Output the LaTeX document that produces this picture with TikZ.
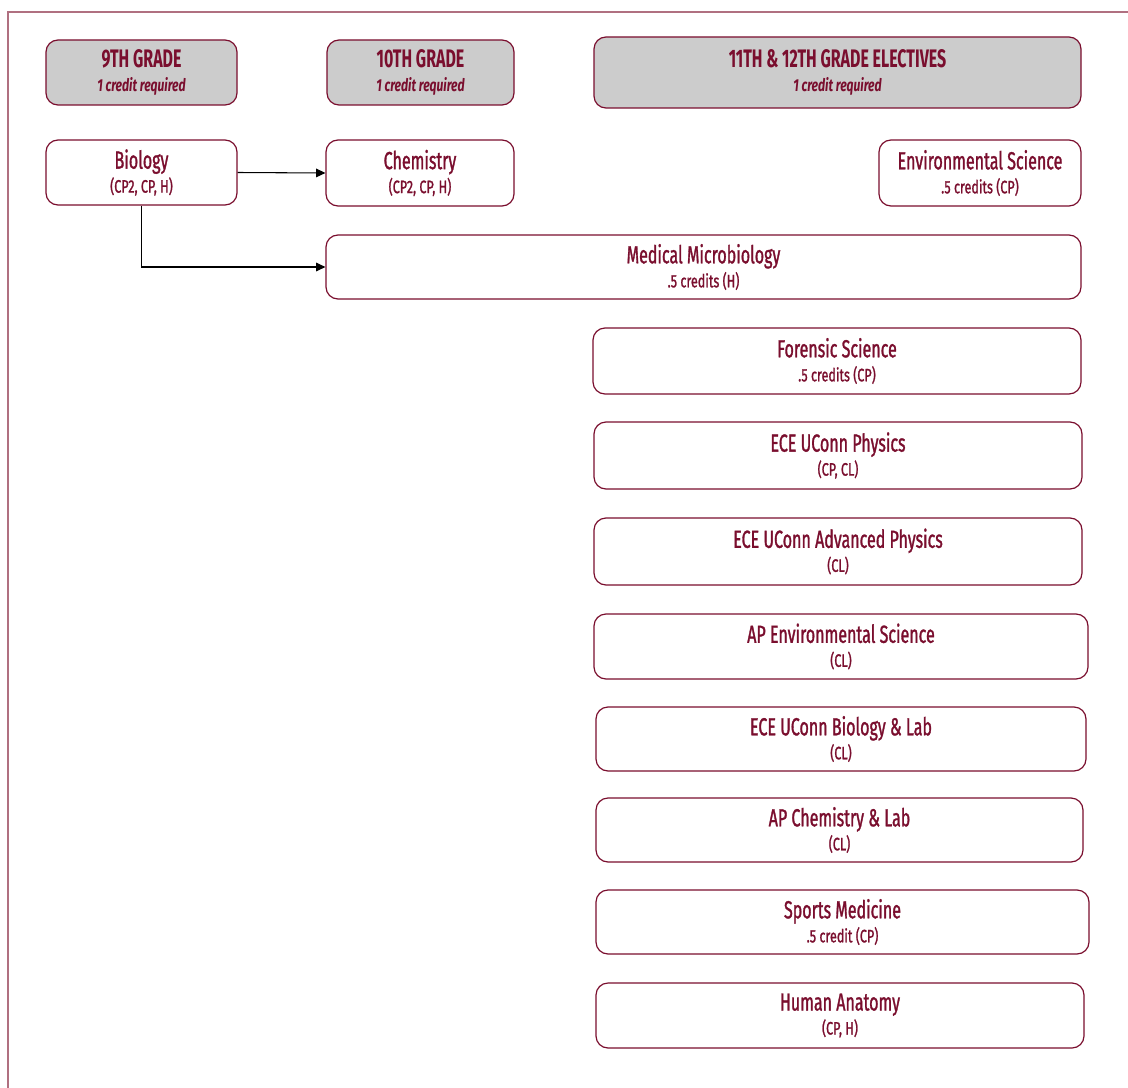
\documentclass[tikz,border=0pt]{standalone}
\usepackage{fontspec}
\usetikzlibrary{arrows.meta}
\newfontfamily\cond[FakeStretch=0.65,FakeBold=1.2]{Fira Sans}
\newfontfamily\condsub[FakeStretch=0.7,FakeBold=1.2]{Fira Sans}
\newfontfamily\condhead[FakeStretch=0.63]{Fira Sans}
\newfontfamily\condheadsub[FakeStretch=0.7]{Fira Sans}
\definecolor{maroon}{RGB}{122,14,46}
\definecolor{frame}{RGB}{176,112,128}
\definecolor{hdrfill}{RGB}{204,204,204}
\newcommand\cbox[7]{%
  \pgfmathsetmacro\mycx{(#3+#5)/2}\pgfmathsetmacro\mycy{(#4+#6)/2}%
  \pgfmathsetmacro\mybw{(#5-#3)*0.75}\pgfmathsetmacro\mybh{(#6-#4)*0.75}%
  \node[#1, minimum width=\mybw pt, minimum height=\mybh pt] (#2) at (\mycx,\mycy) {#7};}
\newcommand\ctitle[2]{{\cond\fontsize{18.5}{18}\selectfont #1}\\{\condsub\fontsize{13.5}{18}\selectfont #2}}
\newcommand\htitle[2]{{\condhead\fontsize{19}{18}\selectfont\bfseries #1}\\{\condheadsub\fontsize{13}{18}\selectfont\bfseries\itshape #2}}
\tikzset{
  base/.style={rectangle, rounded corners=9pt, draw=maroon, line width=0.9pt,
    text=maroon, inner sep=0pt, align=center},
  course/.style={base, fill=white, font=\cond\fontsize{14}{18}\selectfont},
  header/.style={base, fill=hdrfill, font=\condhead\fontsize{14}{18}\selectfont},
  link/.style={draw=black, line width=0.8pt, -{Triangle[length=7pt,width=6.5pt]}}
}
\begin{document}
\begin{tikzpicture}[x=0.75pt,y=-0.75pt]
\useasboundingbox (0,0) rectangle (1128,1088);
\draw[frame, line width=0.8pt] (8,1088) -- (8,12) -- (1128,12);
\cbox{header}{h9}{46}{40}{237}{105}{\htitle{9TH GRADE}{1 credit required}}
\cbox{header}{h10}{327}{40}{514}{105}{\htitle{10TH GRADE}{1 credit required}}
\cbox{header}{h11}{594}{37}{1081}{108}{\htitle{11TH \& 12TH GRADE ELECTIVES}{1 credit required}}
\cbox{course}{bio}{46}{140}{237}{205}{\ctitle{Biology}{(CP2, CP, H)}}
\cbox{course}{chem}{326}{140}{514}{206}{\ctitle{Chemistry}{(CP2, CP, H)}}
\cbox{course}{env}{879}{140}{1081}{206}{\ctitle{Environmental Science}{.5 credits (CP)}}
\cbox{course}{med}{326}{235}{1081}{299}{\ctitle{Medical Microbiology}{.5 credits (H)}}
\cbox{course}{for}{593}{328}{1081}{394}{\ctitle{Forensic Science}{.5 credits (CP)}}
\cbox{course}{phy}{594}{422}{1082}{489}{\ctitle{ECE UConn Physics}{(CP, CL)}}
\cbox{course}{aphy}{594}{518}{1082}{585}{\ctitle{ECE UConn Advanced Physics}{(CL)}}
\cbox{course}{apenv}{594}{614}{1088}{679}{\ctitle{AP Environmental Science}{(CL)}}
\cbox{course}{ecebio}{596}{707}{1086}{771}{\ctitle{ECE UConn Biology \& Lab}{(CL)}}
\cbox{course}{apchem}{596}{798}{1083}{862}{\ctitle{AP Chemistry \& Lab}{(CL)}}
\cbox{course}{sports}{596}{890}{1089}{954}{\ctitle{Sports Medicine}{.5 credit (CP)}}
\cbox{course}{anat}{596}{983}{1084}{1048}{\ctitle{Human Anatomy}{(CP, H)}}
\draw[link] (bio.east) -- (chem.west);
\draw[link] (bio.south) |- (med.west);
\end{tikzpicture}
\end{document}
